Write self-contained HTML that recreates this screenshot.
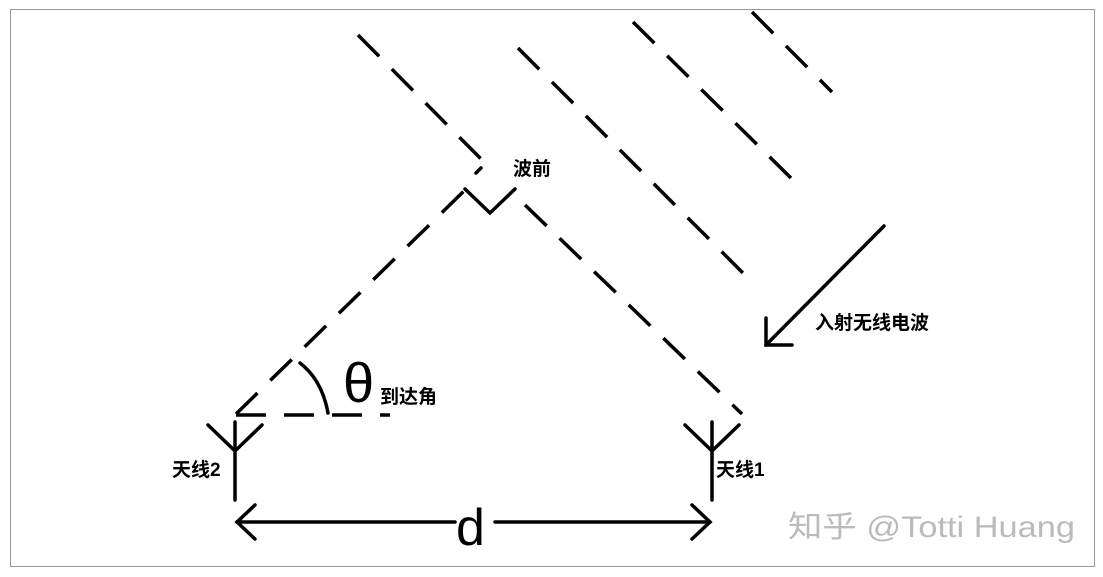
<!DOCTYPE html>
<html><head><meta charset="utf-8"><style>
body{margin:0;background:#fff;width:1103px;height:577px;overflow:hidden}
svg{position:absolute;left:0;top:0}
text{font-family:"Liberation Sans","Noto Sans CJK SC",sans-serif}
</style></head><body>
<svg width="1103" height="577" viewBox="0 0 1103 577">
<rect x="10.5" y="9.5" width="1084" height="557" fill="none" stroke="#999" stroke-width="1"/>
<g stroke="#000" stroke-width="3.5" fill="none" stroke-dasharray="30,18">
<line x1="358" y1="35" x2="482" y2="160"/>
<line x1="525" y1="205" x2="742" y2="414"/>
<line x1="518" y1="48" x2="748" y2="278"/>
<line x1="633" y1="22" x2="795" y2="182"/>
<line x1="752" y1="12" x2="832" y2="92"/>
<line x1="236" y1="414" x2="465" y2="190"/>
<line x1="236" y1="415" x2="390" y2="415"/>
</g>
<g stroke="#000" stroke-width="3.5" fill="none" stroke-linecap="round">
<line x1="476" y1="173" x2="481" y2="168"/>
<polyline points="465,189 490,213 515,189"/>
<path d="M300,363 Q322,380 328,413"/>
<line x1="235" y1="422" x2="235" y2="500"/>
<polyline points="208,425 235,451 262,425"/>
<line x1="712" y1="422" x2="712" y2="500"/>
<polyline points="685,425 712,451 739,425"/>
<line x1="237" y1="522" x2="455" y2="522"/>
<line x1="495" y1="522" x2="710" y2="522"/>
<polyline points="255,505 237,522 255,539"/>
<polyline points="692,505 710,522 692,539"/>
<line x1="884" y1="226" x2="766" y2="345"/>
<polyline points="766,318 766,345 792,345"/>
</g>
<text x="513" y="175" font-size="19" font-weight="bold">波前</text>
<text x="343" y="402" font-size="56">θ</text>
<text x="380" y="403" font-size="19" font-weight="bold">到达角</text>
<text x="172" y="476" font-size="19" font-weight="bold">天线2</text>
<text x="716" y="476" font-size="19" font-weight="bold">天线1</text>
<text x="456" y="545" font-size="52">d</text>
<text x="815" y="329" font-size="19" font-weight="bold">入射无线电波</text>
<text x="788" y="537" font-size="30" fill="#bbb" textLength="287" lengthAdjust="spacingAndGlyphs">知乎 @Totti Huang</text>
</svg>
</body></html>
